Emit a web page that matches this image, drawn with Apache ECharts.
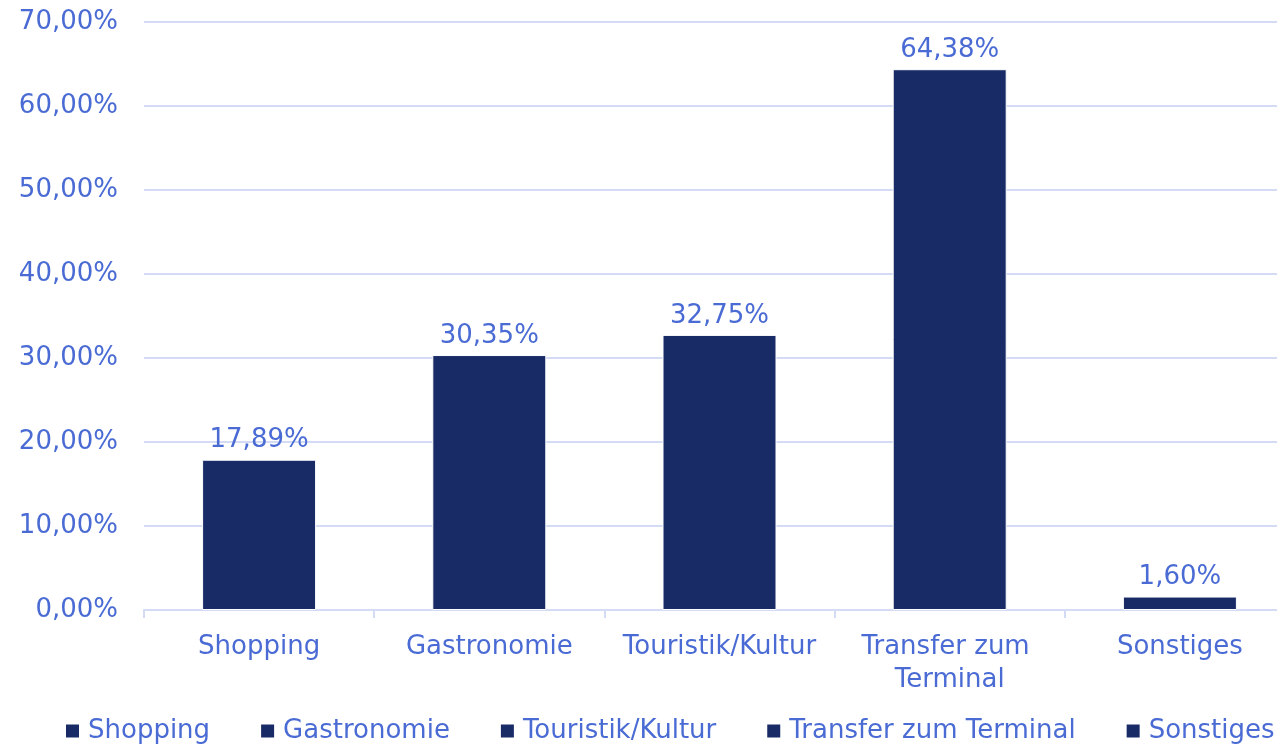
<!DOCTYPE html>
<html><head><meta charset="utf-8">
<script src="https://cdn.jsdelivr.net/npm/echarts@6/dist/echarts.min.js"></script>
<style>html,body{margin:0;padding:0;background:#fff}#c{width:1277px;height:747px}</style>
</head><body><div id="c"></div>
<script>
const categories = ['Shopping', 'Gastronomie', 'Touristik/Kultur', 'Transfer zum Terminal', 'Sonstiges'];
const legendNames = ['Shopping', 'Gastronomie', 'Touristik/Kultur', 'Transfer zum Terminal', 'Sonstiges'];
const values = [17.89, 30.35, 32.75, 64.38, 1.60];
const yTicks = { min: 0, max: 70, interval: 10 };

const TXT = '#4a6bd4';
const BAR = '#182b66';
const GRID = '#d3dcf4';
const FONT = 'DejaVu Sans';
const FW = 'normal';
const FS = 26;
const fmt = v => v.toFixed(2).replace('.', ',') + '%';

const series = categories.map((c, i) => ({
  name: legendNames[i],
  type: 'bar',
  stack: 'all',
  barWidth: 114,
  itemStyle: { color: BAR, borderColor: '#fff', borderWidth: 1 },
  label: { show: true, position: 'top', distance: 6, color: TXT, fontFamily: FONT, fontWeight: FW, fontSize: FS,
    formatter: p => fmt(p.value) },
  data: categories.map((_, j) => j === i ? values[i] : '-')
}));

const chart = echarts.init(document.getElementById('c'), null, { renderer: 'canvas' });
chart.setOption({
  animation: false,
  textStyle: { fontFamily: FONT },
  grid: { left: 144, top: 22, right: -18, bottom: 137, containLabel: false, outerBoundsMode: 'none' },
  legend: {
    left: 66, top: 718, padding: 0, width: 1600, itemWidth: 13, itemHeight: 13, itemGap: 51,
    icon: 'rect', data: legendNames,
    itemStyle: { borderWidth: 0 },
    textStyle: { color: TXT, fontFamily: FONT, fontWeight: FW, fontSize: FS, padding: [0, 0, 0, 4] }
  },
  xAxis: {
    type: 'category', data: categories,
    axisLine: { lineStyle: { color: GRID, width: 2 } },
    axisTick: { show: true, length: 8, lineStyle: { color: GRID, width: 2 } },
    axisLabel: { color: TXT, fontFamily: FONT, fontWeight: FW, fontSize: FS, margin: 21, lineHeight: 33,
      width: 226, overflow: 'break', interval: 0 }
  },
  yAxis: {
    type: 'value', min: yTicks.min, max: yTicks.max, interval: yTicks.interval,
    axisLine: { show: false }, axisTick: { show: false },
    splitLine: { lineStyle: { color: GRID, width: 2 } },
    axisLabel: { color: TXT, fontFamily: FONT, fontWeight: FW, fontSize: FS, margin: 26,
      formatter: v => v.toFixed(2).replace('.', ',') + '%' }
  },
  series
});
</script></body></html>
